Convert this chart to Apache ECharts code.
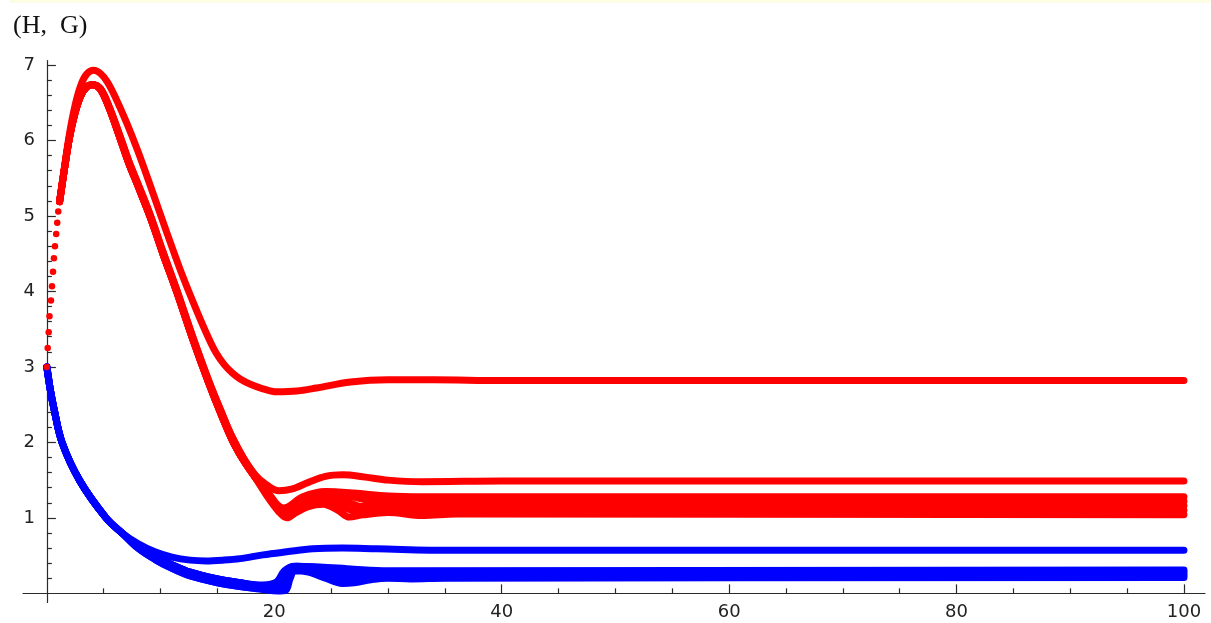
<!DOCTYPE html>
<html>
<head>
<meta charset="utf-8">
<script src="https://cdn.jsdelivr.net/npm/echarts@6/dist/echarts.min.js"></script>
<style>
  html, body { margin: 0; padding: 0; background: #ffffff; }
  #chart { width: 1211px; height: 623px; }
  #strip { position: absolute; left: 9px; top: 0; width: 1202px; height: 3px; background: #fdfde6; }
</style>
</head>
<body>
<div id="chart"></div>
<div id="strip"></div>
<script>
// H(t): first samples near t = 0, drawn as separate dots
const hDots = [[0, 3.0], [0.07, 3.25], [0.16, 3.46], [0.23, 3.67], [0.36, 3.88], [0.45, 4.07],
  [0.54, 4.26], [0.62, 4.44], [0.71, 4.60], [0.82, 4.76], [0.91, 4.91], [1.0, 5.06], [1.12, 5.19]];

// H(t): rise to the peak
const hRiseTop = [[1.12, 5.19], [1.5, 5.6], [2.0, 6.1], [2.5, 6.48], [3.0, 6.74], [3.5, 6.88], [4.1, 6.93]];
const hRiseLow = [[1.12, 5.19], [1.5, 5.58], [2.0, 6.05], [2.5, 6.38], [3.0, 6.6], [3.5, 6.71], [4.0, 6.74]];

// H(t): upper trajectory after the peak
const hTopTail = [[4.7, 6.89], [5.3, 6.78], [6.0, 6.58], [7.0, 6.24], [8.0, 5.86], [9.1, 5.4], [10.5, 4.8],
  [12.0, 4.18], [13.3, 3.7], [14.2, 3.39], [14.9, 3.18], [15.6, 3.03], [16.3, 2.92], [17.0, 2.84], [17.9, 2.77],
  [19.0, 2.71], [20.2, 2.67], [22, 2.68], [23.7, 2.72], [26.7, 2.8], [30, 2.83], [34, 2.83], [40, 2.82], [100, 2.82]];

// H(t): shared fall of the lower trajectories (two close bundles)
const hLowFall = [[4.7, 6.68], [5.5, 6.42], [6.5, 6.0], [7.2, 5.7], [8.0, 5.4], [9.1, 4.98], [10.2, 4.5],
  [11.4, 4.0], [12.8, 3.38], [14.2, 2.8], [15.3, 2.38], [16.3, 2.03], [17.3, 1.76], [18.3, 1.54]];
const hLowFallB = [[4.7, 6.69], [5.5, 6.44], [6.5, 6.03], [7.2, 5.73], [8.0, 5.43], [9.1, 5.01], [10.2, 4.53],
  [11.4, 4.03], [12.8, 3.41], [14.2, 2.83], [15.3, 2.42], [16.3, 2.07], [17.3, 1.79], [18.3, 1.57]];

// H(t): lower trajectories after they split
const hTail2 = [[19.3, 1.44], [20.4, 1.36], [21.5, 1.38], [23, 1.47], [24.5, 1.55], [26, 1.57], [28, 1.54],
  [30, 1.5], [33, 1.48], [40, 1.49], [100, 1.49]];
const hTail3 = [[19.4, 1.28], [20.4, 1.08], [21.1, 1.0], [21.8, 1.06], [23, 1.15], [24.3, 1.18], [25.6, 1.1],
  [26.6, 1.01], [27.8, 1.04], [30, 1.07], [33, 1.03], [36, 1.05], [100, 1.04]];
const hTail4 = [[19.4, 1.3], [20.5, 1.1], [21.1, 1.04], [22.2, 1.15], [23.8, 1.24], [25.3, 1.2], [26.8, 1.1],
  [28.5, 1.08], [31, 1.12], [35, 1.1], [100, 1.1]];
const hTail5 = [[19.4, 1.32], [20.4, 1.13], [21, 1.08], [22.3, 1.2], [24, 1.29], [25.8, 1.25], [27.8, 1.15],
  [30, 1.15], [34, 1.17], [100, 1.16]];
const hTail6 = [[19.4, 1.33], [20.3, 1.15], [20.9, 1.11], [22.4, 1.25], [24.3, 1.33], [26.5, 1.29], [29, 1.22],
  [32, 1.22], [100, 1.22]];
const hTail7 = [[19.4, 1.35], [20.3, 1.17], [20.8, 1.13], [22.5, 1.28], [24.5, 1.35], [27, 1.33], [30, 1.29],
  [33, 1.28], [100, 1.28]];

// G(t): shared decay from the start
const gStart = [[0, 3.0], [0.3, 2.7], [0.62, 2.45], [1.33, 2.0], [2.9, 1.49], [5.2, 1.0], [6.6, 0.8]];

// G(t): upper trajectory
const gTopTail = [[8.0, 0.66], [9.5, 0.55], [11, 0.48], [12.6, 0.44], [14, 0.43], [15.5, 0.44], [17, 0.46],
  [19, 0.51], [21.1, 0.55], [23.4, 0.59], [26, 0.6], [29, 0.59], [35.5, 0.57], [100, 0.57]];

// G(t): decay of the lower trajectories (two close bundles)
const gLowFallA = [[8.0, 0.6], [9.5, 0.45], [11, 0.33], [12.6, 0.23], [15, 0.14], [17, 0.09]];
const gLowFallB = [[8.0, 0.63], [9.5, 0.49], [11, 0.38], [12.6, 0.28], [15, 0.19], [17, 0.14]];

// G(t): lower trajectories after the jump near t = 21
const gTail2 = [[19, 0.05], [20.3, 0.03], [21, 0.04], [21.4, 0.2], [21.8, 0.3], [23, 0.28], [24.5, 0.2],
  [26, 0.13], [27, 0.14], [28.5, 0.18], [30, 0.2], [32, 0.19], [35, 0.2], [100, 0.21]];
const gTail3 = [[19, 0.06], [20.5, 0.04], [21.2, 0.15], [21.6, 0.33], [23, 0.31], [25, 0.24], [26.3, 0.18],
  [28, 0.2], [31, 0.23], [100, 0.235]];
const gTail4 = [[19, 0.09], [20.6, 0.06], [21.3, 0.25], [21.7, 0.35], [23.5, 0.33], [25.5, 0.27], [27.5, 0.23],
  [30, 0.25], [100, 0.26]];
const gTail5 = [[19, 0.1], [20.4, 0.1], [21.2, 0.32], [22, 0.36], [24, 0.34], [26.5, 0.29], [29, 0.27],
  [32, 0.28], [100, 0.285]];
const gTail6 = [[19, 0.11], [20.2, 0.15], [20.9, 0.3], [21.8, 0.36], [24, 0.35], [27, 0.32], [30, 0.3],
  [100, 0.31]];

// Axis ticks
const xMajor = [20, 40, 60, 80, 100];
const xMinor = [5, 10, 15, 25, 30, 35, 45, 50, 55, 65, 70, 75, 85, 90, 95];
const yMajor = [1, 2, 3, 4, 5, 6, 7];
const yMinor = [];
for (let i = 1; i <= 34; i++) { if (i % 5 !== 0) yMinor.push(+(i * 0.2).toFixed(1)); }

const RED = '#ff0000';
const BLUE = '#0000ff';

function traj(color, parts) {
  return {
    type: 'line',
    xAxisIndex: 0,
    yAxisIndex: 0,
    data: [].concat(...parts),
    showSymbol: false,
    symbol: 'none',
    smooth: 0.35,
    silent: true,
    lineStyle: { color: color, width: 7, cap: 'round', join: 'round' },
    z: color === RED ? 3 : 2
  };
}

const AXIS_COLOR = '#2a2a2a';
const xRange = { min: -2.1, max: 101.85 };
const yRange = { min: -0.12, max: 7.06 };

const chart = echarts.init(document.getElementById('chart'), null, { renderer: 'canvas' });
chart.setOption({
  animation: false,
  backgroundColor: '#ffffff',
  title: {
    text: '(H,  G)',
    left: 8,
    top: 8,
    textStyle: { fontFamily: 'Liberation Serif', fontSize: 26, fontWeight: 'normal', color: '#111' }
  },
  grid: { left: 23, top: 60.5, width: 1182, height: 541.9, containLabel: false, outerBoundsMode: 'none' },
  xAxis: [
    {
      type: 'value', ...xRange,
      axisLine: { onZero: true, onZeroAxisIndex: 0, lineStyle: { color: AXIS_COLOR, width: 1.2 } },
      axisTick: { show: true, inside: true, length: 9, customValues: xMajor, lineStyle: { color: AXIS_COLOR, width: 1.2 } },
      axisLabel: { customValues: xMajor, margin: 1, fontFamily: 'DejaVu Sans', fontSize: 18, color: '#222' },
      splitLine: { show: false }
    },
    {
      type: 'value', ...xRange, position: 'bottom',
      axisLine: { show: false, onZero: true, onZeroAxisIndex: 1 },
      axisTick: { show: true, inside: true, length: 5, customValues: xMinor, lineStyle: { color: AXIS_COLOR, width: 1.2 } },
      axisLabel: { show: false },
      splitLine: { show: false }
    }
  ],
  yAxis: [
    {
      type: 'value', ...yRange,
      axisLine: { show: true, onZero: true, onZeroAxisIndex: 0, lineStyle: { color: AXIS_COLOR, width: 1.2 } },
      axisTick: { show: true, inside: true, length: 9, customValues: yMajor, lineStyle: { color: AXIS_COLOR, width: 1.2 } },
      axisLabel: { customValues: yMajor, margin: -12, fontFamily: 'DejaVu Sans', fontSize: 18, color: '#222' },
      splitLine: { show: false }
    },
    {
      type: 'value', ...yRange, position: 'left',
      axisLine: { show: false, onZero: true, onZeroAxisIndex: 1 },
      axisTick: { show: true, inside: true, length: 5, customValues: yMinor, lineStyle: { color: AXIS_COLOR, width: 1.2 } },
      axisLabel: { show: false },
      splitLine: { show: false }
    }
  ],
  series: [
    traj(BLUE, [gStart, gTopTail]),
    traj(BLUE, [gStart, gLowFallA, gTail2]),
    traj(BLUE, [gStart, gLowFallA, gTail3]),
    traj(BLUE, [gStart, gLowFallB, gTail4]),
    traj(BLUE, [gStart, gLowFallB, gTail5]),
    traj(BLUE, [gStart, gLowFallB, gTail6]),
    traj(RED, [hRiseTop, hTopTail]),
    traj(RED, [hRiseLow, hLowFallB, hTail2]),
    traj(RED, [hRiseLow, hLowFall, hTail3]),
    traj(RED, [hRiseLow, hLowFall, hTail4]),
    traj(RED, [hRiseLow, hLowFall, hTail5]),
    traj(RED, [hRiseLow, hLowFall, hTail6]),
    traj(RED, [hRiseLow, hLowFallB, hTail7]),
    {
      type: 'scatter',
      xAxisIndex: 0,
      yAxisIndex: 0,
      data: hDots,
      symbol: 'circle',
      symbolSize: 6.5,
      silent: true,
      itemStyle: { color: RED, opacity: 1 },
      z: 4
    }
  ]
});
</script>
</body>
</html>
